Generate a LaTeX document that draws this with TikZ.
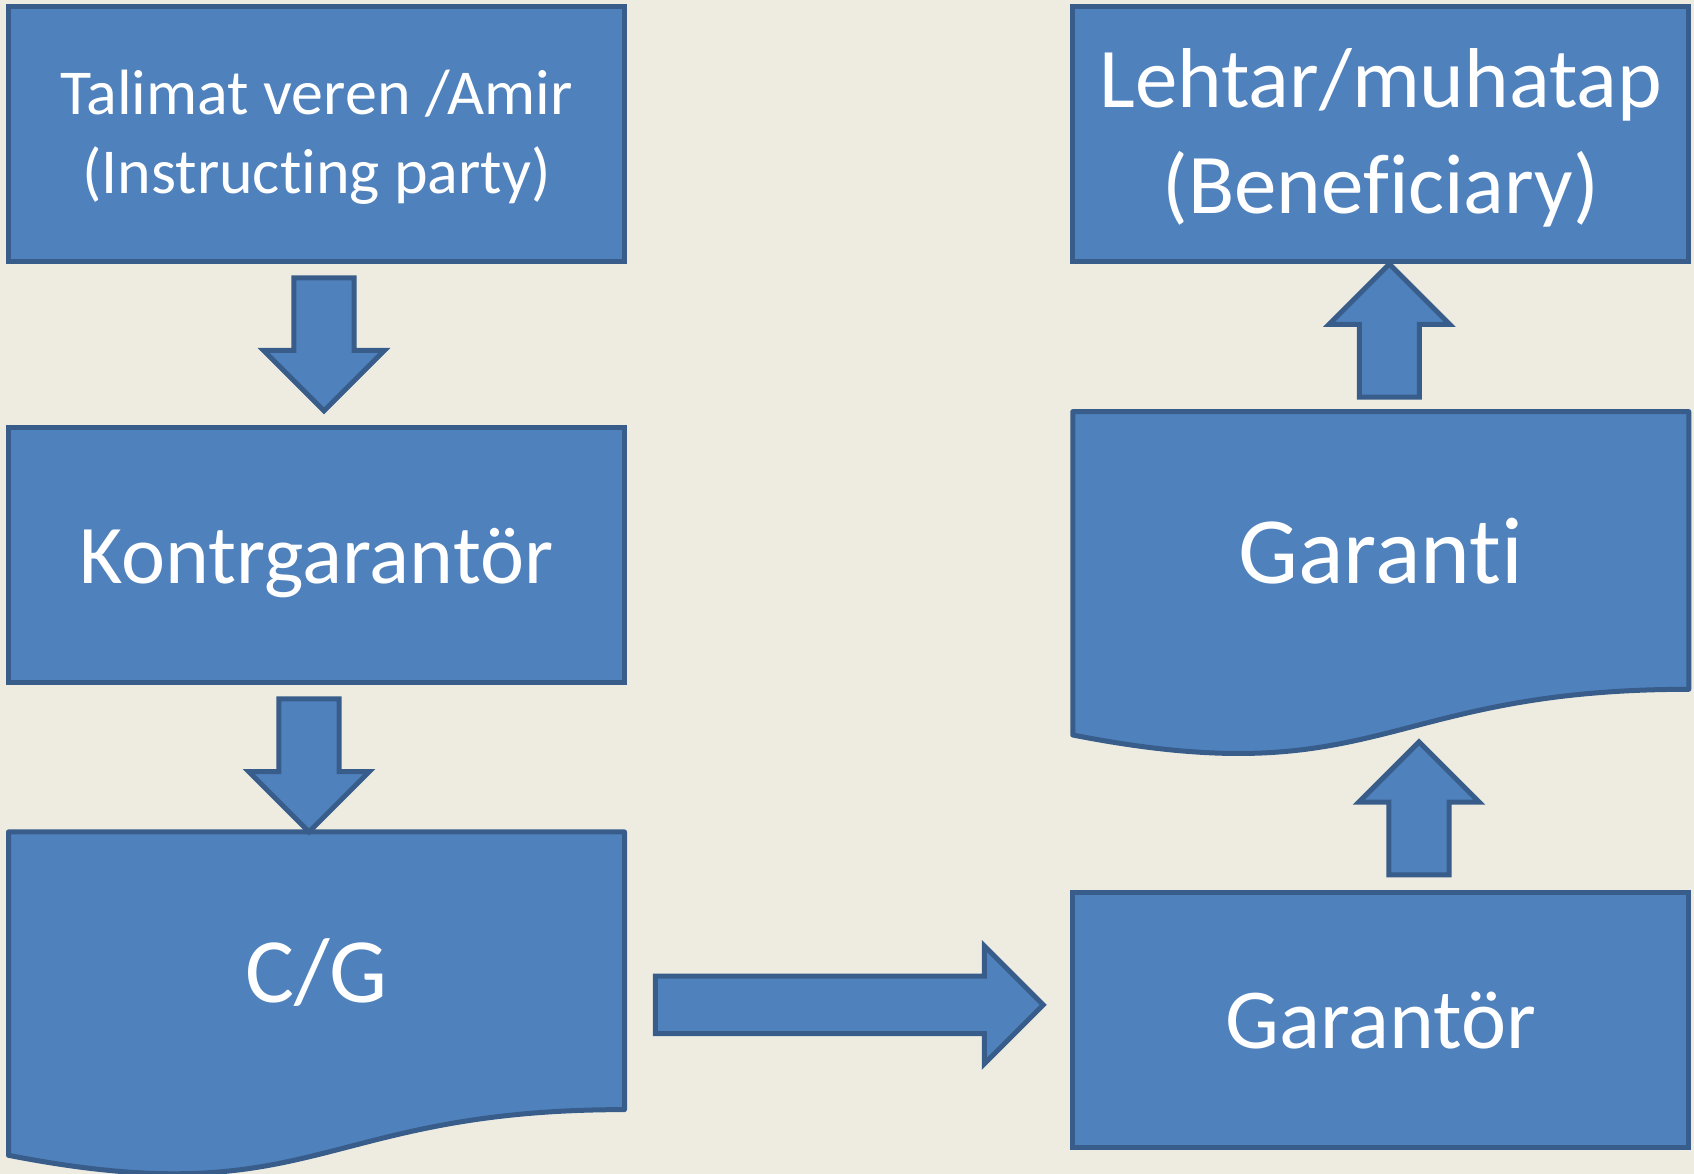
\documentclass[tikz,border=0pt]{standalone}
\usepackage{fontspec}
\setmainfont{Carlito}[Ligatures=NoCommon]
\usetikzlibrary{positioning,calc,shapes.arrows,backgrounds}
\definecolor{BoxBlue}{RGB}{79,129,189}
\definecolor{EdgeBlue}{RGB}{56,93,138}
\definecolor{PaperTan}{RGB}{238,236,225}
\tikzset{
  box/.style={rectangle,draw=EdgeBlue,fill=BoxBlue,line width=5pt,text=white,
    minimum width=616pt,minimum height=255pt,inner sep=0pt,align=center,text depth=20pt},
  docbox/.style={rectangle,text=white,minimum width=616pt,minimum height=277.7pt,
    inner sep=0pt,outer sep=0pt,align=center,text depth=20pt},
  docedge/.style={draw=EdgeBlue,fill=BoxBlue,line width=5pt,line join=round},
  blockarr/.style={single arrow,draw=EdgeBlue,fill=BoxBlue,line width=5pt,
    inner xsep=0pt,inner ysep=26.2pt,single arrow head extend=30.3pt,
    minimum height=136pt,outer sep=0pt},
  vblockarr/.style={blockarr,inner xsep=27.6pt,inner ysep=0pt,single arrow head extend=30.2pt,
    minimum height=133pt},
}

\begin{document}
\begin{tikzpicture}[x=1pt,y=-1pt]
\useasboundingbox (0,0) rectangle (1694,1174);
\coordinate (ctal) at (316.5,134);
\coordinate (ckon) at (316.5,554.8);
\coordinate (ccg) at (316.5,970.75);
\coordinate (cleh) at (1380.75,134);
\coordinate (cgnt) at (1380.75,550.45);
\coordinate (cgar) at (1380.75,1019.9);
% left column
\node[box,font=\fontsize{64}{78.5}\selectfont,text height=138.6pt] (tal) at (ctal) {Talimat veren /Amir\\(Instructing party)};
\node[box,font=\fontsize{83.5}{100}\selectfont,text height=77.2pt] (kon) at (ckon) {Kontrgarantör};
\node[docbox,font=\fontsize{92}{110}\selectfont,text height=83.8pt] (cg) at (ccg) {C/G};
% right column
\node[box,font=\fontsize{85}{106}\selectfont,text height=180pt] (leh) at (cleh) {Lehtar/muhatap\\(Beneficiary)};
\node[docbox,font=\fontsize{95}{114}\selectfont,text height=86pt] (gnt) at (cgnt) {Garanti};
\node[box,font=\fontsize{85.4}{102}\selectfont,text height=76.2pt] (gar) at (cgar) {Garantör};
% block arrows
\node[vblockarr,shape border rotate=270,anchor=tip] (a1) at ($(kon.north)+(7.5,-14)$) {};
\node[vblockarr,shape border rotate=270,anchor=tip] (a2) at ($(cg.north)+(-7.5,0)$) {};
\node[blockarr,minimum height=388pt,anchor=tip] (a3) at ($(gar.west)+(-27,-15)$) {};
\node[vblockarr,shape border rotate=90,anchor=tail] (a4) at ($(gar.north)+(38.3,-15)$) {};
\node[vblockarr,shape border rotate=90,anchor=tip] (a5) at ($(leh.south)+(8.6,0)$) {};
\begin{pgfonlayer}{background}
\fill[PaperTan] (0,0) rectangle (1694,1174);
\draw[docedge] (cg.north west) -- (cg.north east) -- (cg.south east)
  .. controls (cg.south) and ($(cg.south)+(0,105.8)$) .. ($(cg.south west)+(0,45.7)$) -- cycle;
\draw[docedge] (gnt.north west) -- (gnt.north east) -- (gnt.south east)
  .. controls (gnt.south) and ($(gnt.south)+(0,105.8)$) .. ($(gnt.south west)+(0,45.7)$) -- cycle;
\end{pgfonlayer}
\end{tikzpicture}
\end{document}
